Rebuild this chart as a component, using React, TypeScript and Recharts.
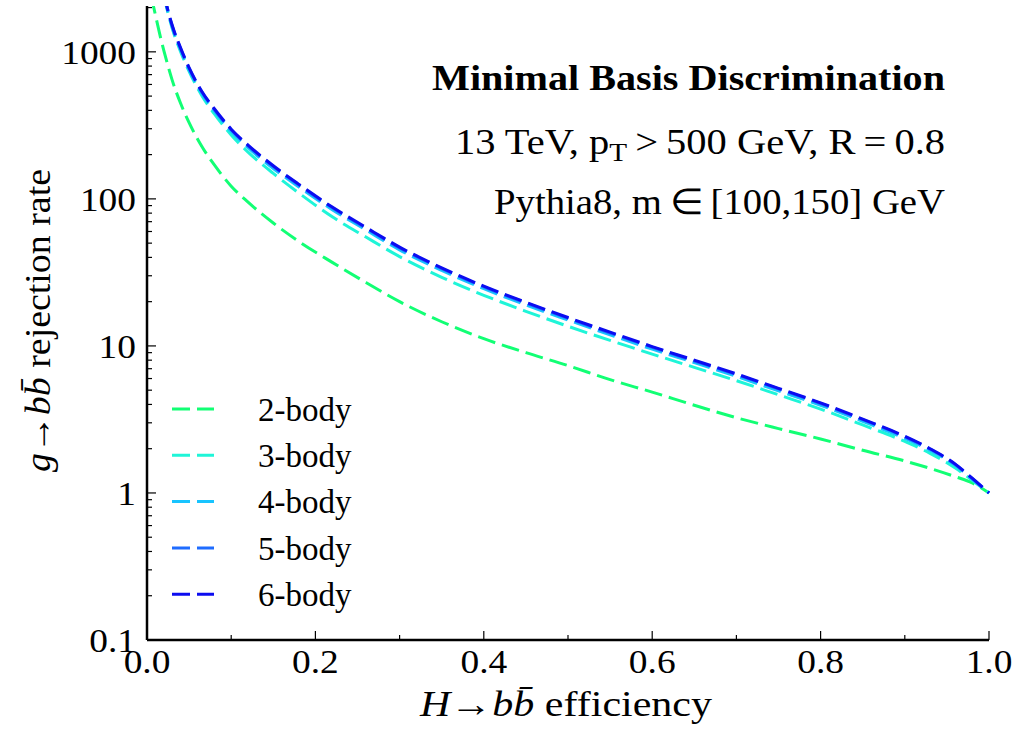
import React from "react";
import { LineChart, Line, XAxis, YAxis, Legend } from "recharts";

// efficiency grid for the 2-body curve (it starts further left)
const eff2 = [
  0.005, 0.01, 0.015, 0.02, 0.025, 0.03, 0.04, 0.05, 0.065, 0.08, 0.1, 0.12, 0.15, 0.18, 0.22, 0.26, 0.3,
  0.35, 0.4, 0.45, 0.5, 0.55, 0.6, 0.65, 0.7, 0.75, 0.8, 0.85, 0.9, 0.93, 0.96, 0.98, 1.0,
];
const rate2 = [
  2400, 1780, 1330, 1020, 800, 640, 445, 330, 228, 170, 122, 95, 68.5, 51.5, 37, 27, 20,
  14.6, 11.2, 9.0, 7.35, 5.9, 4.85, 3.95, 3.25, 2.74, 2.33, 1.95, 1.65, 1.47, 1.29, 1.17, 1.0,
];

// efficiency grid shared by the 3..6-body curves
const effN = [
  0.02, 0.025, 0.03, 0.04, 0.05, 0.065, 0.08, 0.1, 0.12, 0.15, 0.18, 0.22, 0.26, 0.3, 0.35,
  0.4, 0.45, 0.5, 0.55, 0.6, 0.65, 0.7, 0.75, 0.8, 0.85, 0.9, 0.93, 0.96, 0.98, 1.0,
];
const rate3 = [
  2420, 1830, 1440, 1000, 735, 505, 378, 272, 208, 149, 110, 75.5, 55, 40.5, 29.3,
  22.1, 17.2, 13.6, 10.9, 8.8, 7.15, 5.8, 4.65, 3.72, 2.9, 2.24, 1.86, 1.48, 1.22, 1.0,
];
const rate4 = [
  2450, 1860, 1470, 1030, 755, 522, 395, 287, 223, 161, 121, 84.5, 61.5, 45, 32.6,
  24.5, 19, 15, 11.9, 9.5, 7.7, 6.2, 4.95, 3.95, 3.07, 2.35, 1.95, 1.54, 1.24, 1.0,
];
const rate5 = [
  2480, 1890, 1500, 1050, 772, 535, 405, 295, 229, 166, 124.5, 87, 63.2, 46.4, 33.6,
  25.2, 19.6, 15.4, 12.25, 9.8, 7.9, 6.38, 5.1, 4.06, 3.15, 2.41, 1.99, 1.56, 1.255, 1.0,
];
const rate6 = [
  2500, 1900, 1510, 1060, 780, 540, 410, 298, 232, 168, 126, 88, 64, 47, 34,
  25.5, 19.8, 15.6, 12.4, 9.9, 8.0, 6.45, 5.15, 4.1, 3.18, 2.43, 2.0, 1.57, 1.26, 1.0,
];

const seriesNames = ["2-body", "3-body", "4-body", "5-body", "6-body"];
const seriesColors = ["#12ff74", "#1ff5d8", "#18c4ff", "#1f6cff", "#0c0cf0"];

const xTicks = [0, 0.1, 0.2, 0.3, 0.4, 0.5, 0.6, 0.7, 0.8, 0.9, 1.0];
const xMajor = [0, 0.2, 0.4, 0.6, 0.8, 1.0];
const yTicks = [
  0.1, 0.2, 0.3, 0.4, 0.5, 0.6, 0.7, 0.8, 0.9,
  1, 2, 3, 4, 5, 6, 7, 8, 9,
  10, 20, 30, 40, 50, 60, 70, 80, 90,
  100, 200, 300, 400, 500, 600, 700, 800, 900,
  1000, 2000,
];
const yMajor = [0.1, 1, 10, 100, 1000];

const FONT = "'Liberation Serif', 'Times New Roman', serif";
const W = 1015;
const H = 729;

const toPoints = (xs: number[], ys: number[]) => xs.map((e, i) => ({ e, r: ys[i] }));
const seriesData = [
  toPoints(eff2, rate2),
  toPoints(effN, rate3),
  toPoints(effN, rate4),
  toPoints(effN, rate5),
  toPoints(effN, rate6),
];

// ticks point inward, like the matplotlib original
const BottomTick = ({ x, y, payload }: any) => {
  const major = xMajor.includes(payload.value);
  return (
    <g>
      <line x1={x} x2={x} y1={y} y2={y - (major ? 9 : 5)} stroke="#000" strokeWidth={1.2} />
      {major && (
        <text
          transform={`translate(${x},${y + 33}) scale(1.1,1)`}
          textAnchor="middle"
          fontSize={34}
          fontFamily={FONT}
          fill="#000"
        >
          {payload.value.toFixed(1)}
        </text>
      )}
    </g>
  );
};
const TopTick = ({ x, y, payload }: any) => {
  const major = xMajor.includes(payload.value);
  return <line x1={x} x2={x} y1={y} y2={y + (major ? 9 : 5)} stroke="#000" strokeWidth={1.2} />;
};
const LeftTick = ({ x, y, payload }: any) => {
  const major = yMajor.includes(payload.value);
  return (
    <g>
      <line x1={x} x2={x + (major ? 9 : 5)} y1={y} y2={y} stroke="#000" strokeWidth={1.2} />
      {major && (
        <text
          transform={`translate(${x - 11},${y}) scale(1.1,1)`}
          dy="0.35em"
          textAnchor="end"
          fontSize={34}
          fontFamily={FONT}
          fill="#000"
        >
          {String(payload.value)}
        </text>
      )}
    </g>
  );
};
const RightTick = ({ x, y, payload }: any) => {
  const major = yMajor.includes(payload.value);
  return <line x1={x} x2={x - (major ? 9 : 5)} y1={y} y2={y} stroke="#000" strokeWidth={1.2} />;
};

const renderLegend = () => (
  <svg width={220} height={240} style={{ display: "block" }}>
    {seriesNames.map((name, i) => {
      const cy = 29 + i * 46.3;
      return (
        <g key={name}>
          <line x1={12} x2={54} y1={cy} y2={cy} stroke={seriesColors[i]} strokeWidth={3} strokeDasharray="18 7" />
          <text x={98} y={cy} dy="0.36em" fontSize={33} fontFamily={FONT} fill="#000">
            {name}
          </text>
        </g>
      );
    })}
  </svg>
);

const axisLine = { stroke: "#000", strokeWidth: 2.5 };

export default function App() {
  return (
    <div style={{ position: "absolute", left: 0, top: 0, width: W, height: H, background: "#fff" }}>
      <LineChart width={W} height={H} margin={{ top: 6, right: 26, left: 0, bottom: 0 }}>
        <XAxis
          xAxisId="b"
          dataKey="e"
          type="number"
          domain={[0, 1]}
          ticks={xTicks}
          interval={0}
          height={89}
          tickSize={0}
          tickMargin={0}
          axisLine={axisLine}
          tickLine={false}
          tick={<BottomTick />}
        />
        <XAxis
          xAxisId="t"
          orientation="top"
          dataKey="e"
          type="number"
          domain={[0, 1]}
          ticks={xTicks}
          interval={0}
          height={0}
          tickSize={0}
          tickMargin={0}
          axisLine={axisLine}
          tickLine={false}
          tick={<TopTick />}
        />
        <YAxis
          yAxisId="l"
          dataKey="r"
          type="number"
          scale="log"
          domain={[0.1, 2050]}
          allowDataOverflow
          ticks={yTicks}
          interval={0}
          width={147}
          tickSize={0}
          tickMargin={0}
          axisLine={axisLine}
          tickLine={false}
          tick={<LeftTick />}
        />
        <YAxis
          yAxisId="r"
          orientation="right"
          dataKey="r"
          type="number"
          scale="log"
          domain={[0.1, 2050]}
          allowDataOverflow
          ticks={yTicks}
          interval={0}
          width={0}
          tickSize={0}
          tickMargin={0}
          axisLine={axisLine}
          tickLine={false}
          tick={<RightTick />}
        />
        <Legend
          content={renderLegend}
          layout="vertical"
          align="center"
          verticalAlign="middle"
          wrapperStyle={{ left: 160, top: 380, width: 220, height: 240 }}
        />
        {seriesData.map((pts, i) => (
          <Line
            key={seriesNames[i]}
            xAxisId="b"
            yAxisId="l"
            data={pts}
            dataKey="r"
            name={seriesNames[i]}
            type="monotone"
            stroke={seriesColors[i]}
            strokeWidth={3}
            strokeDasharray="18 7"
            dot={false}
            activeDot={false}
            isAnimationActive={false}
          />
        ))}
      </LineChart>

      {/* annotation text and axis titles */}
      <svg
        width={W}
        height={H}
        style={{ position: "absolute", left: 0, top: 0, pointerEvents: "none" }}
        fontFamily={FONT}
        fill="#000"
      >
        <text x={432} y={90} fontSize={36} fontWeight="bold" textLength={513} lengthAdjust="spacingAndGlyphs">
          Minimal Basis Discrimination
        </text>
        <text x={455} y={154} fontSize={36} textLength={490} lengthAdjust="spacingAndGlyphs">
          13 TeV, p<tspan dy={7} fontSize={26}>T</tspan>
          <tspan dy={-7}>{"\u2009>\u2009500 GeV, R\u2009=\u20090.8"}</tspan>
        </text>
        <text x={494} y={214} fontSize={36} textLength={451} lengthAdjust="spacingAndGlyphs">
          {"Pythia8, m\u2009\u2208\u2009[100,150] GeV"}
        </text>
        <text x={420} y={716} fontSize={36} textLength={292} lengthAdjust="spacingAndGlyphs">
          <tspan fontStyle="italic">H</tspan>
          {"\u2192"}
          <tspan fontStyle="italic">{"bb\u0304"}</tspan>
          {" efficiency"}
        </text>
        <g transform="translate(50,321) rotate(-90)">
          <text x={-151} y={0} fontSize={36} textLength={303} lengthAdjust="spacingAndGlyphs">
            <tspan fontStyle="italic">g</tspan>
            {"\u2192"}
            <tspan fontStyle="italic">{"bb\u0304"}</tspan>
            {" rejection rate"}
          </text>
        </g>
      </svg>
    </div>
  );
}
